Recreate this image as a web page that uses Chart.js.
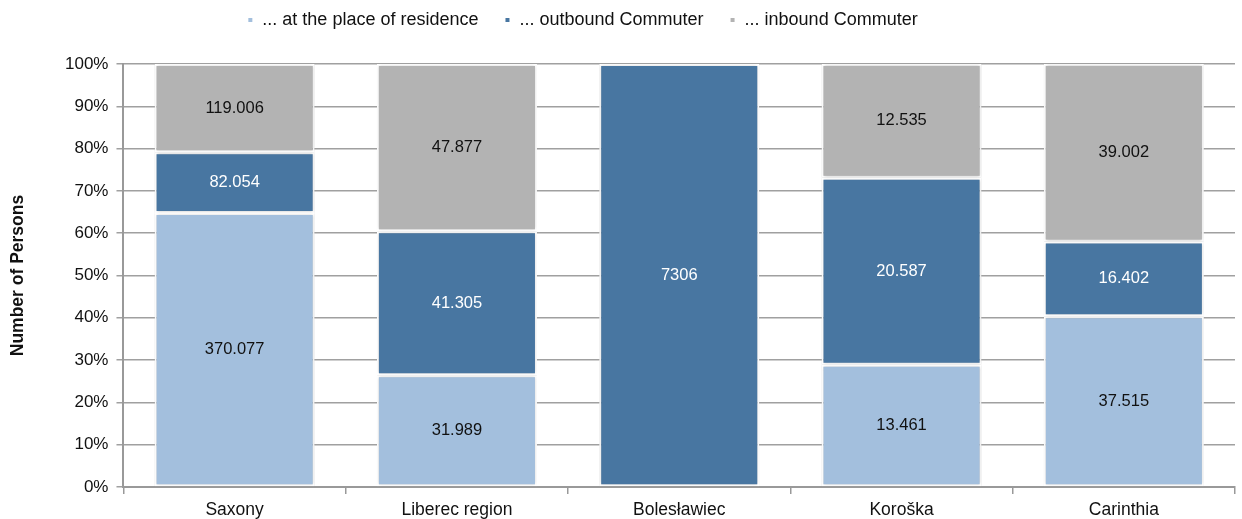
<!DOCTYPE html>
<html>
<head>
<meta charset="utf-8">
<script src="https://cdn.jsdelivr.net/npm/chart.js@4/dist/chart.umd.min.js"></script>
<style>
  html, body { margin: 0; padding: 0; background: #fff; }
  #wrap { width: 1242px; height: 519px; position: relative; }
</style>
</head>
<body>
<div id="wrap"><canvas id="chart"></canvas></div>
<script>
// Regions and absolute person counts (shown as labels, drawn as share of 100%)
const regions = ['Saxony', 'Liberec region', 'Bolesławiec', 'Koroška', 'Carinthia'];
const atResidence = [370077, 31989, 0, 13461, 37515];
const outbound = [82054, 41305, 7306, 20587, 16402];
const inbound = [119006, 47877, 0, 12535, 39002];
const labelTexts = {
  residence: ['370.077', '31.989', '', '13.461', '37.515'],
  outbound: ['82.054', '41.305', '7306', '20.587', '16.402'],
  inbound: ['119.006', '47.877', '', '12.535', '39.002']
};

const COLORS = { residence: '#a3bfdd', outbound: '#4876a1', inbound: '#b3b3b3' };
const FONT = '"Liberation Sans", Arial, sans-serif';

const totals = regions.map((_, i) => atResidence[i] + outbound[i] + inbound[i]);
const share = arr => arr.map((v, i) => v / totals[i] * 100);

// Raw numbers in the middle of each segment
const segmentLabels = {
  id: 'segmentLabels',
  afterDatasetsDraw(chart) {
    const ctx = chart.ctx;
    ctx.save();
    ctx.font = '16.5px ' + FONT;
    ctx.textAlign = 'center';
    ctx.textBaseline = 'middle';
    chart.data.datasets.forEach((ds, di) => {
      const meta = chart.getDatasetMeta(di);
      meta.data.forEach((bar, i) => {
        const txt = ds.texts[i];
        if (!txt) return;
        ctx.fillStyle = ds.textColor;
        ctx.fillText(txt, bar.x, (bar.y + bar.base) / 2);
      });
    });
    ctx.restore();
  }
};

// Soft halo around the bars
const barShadow = {
  id: 'barShadow',
  beforeDatasetsDraw(chart) {
    chart.ctx.save();
    chart.ctx.shadowColor = 'rgba(0,0,0,0.25)';
    chart.ctx.shadowBlur = 3;
  },
  afterDatasetsDraw(chart) {
    chart.ctx.restore();
  }
};

// Extra room between legend and plot, legend sits a bit left of centre
const legendGap = {
  id: 'legendGap',
  beforeInit(chart) {
    const fit = chart.legend.fit;
    chart.legend.fit = function () {
      fit.bind(chart.legend)();
      this.height += 25;
    };
  },
  afterLayout(chart) {
    chart.legend.left -= 35;
    chart.legend.right -= 35;
  }
};

new Chart(document.getElementById('chart'), {
  type: 'bar',
  data: {
    labels: regions,
    datasets: [
      { label: '... at the place of residence', data: share(atResidence), backgroundColor: COLORS.residence,
        texts: labelTexts.residence, textColor: '#111' },
      { label: '... outbound Commuter', data: share(outbound), backgroundColor: COLORS.outbound,
        texts: labelTexts.outbound, textColor: '#fff' },
      { label: '... inbound Commuter', data: share(inbound), backgroundColor: COLORS.inbound,
        texts: labelTexts.inbound, textColor: '#111' }
    ].map(d => Object.assign(d, {
      borderColor: '#fff', borderWidth: 2, borderSkipped: false,
      categoryPercentage: 0.72, barPercentage: 1
    }))
  },
  options: {
    responsive: true,
    maintainAspectRatio: false,
    animation: false,
    layout: { padding: { left: 0, right: 7, top: -15, bottom: -8 } },
    plugins: {
      legend: {
        position: 'top',
        labels: {
          color: '#111',
          boxWidth: 6, boxHeight: 6,
          padding: 26,
          font: { family: FONT, size: 18 }
        }
      },
      tooltip: { enabled: false }
    },
    scales: {
      x: {
        stacked: true,
        grid: { offset: true, drawOnChartArea: false, color: '#999', tickLength: 7, lineWidth: 1.5 },
        border: { color: '#999', width: 2 },
        ticks: { color: '#111', padding: 6, font: { family: FONT, size: 17.5 } }
      },
      y: {
        stacked: true,
        min: 0, max: 100,
        ticks: {
          stepSize: 10, color: '#111', padding: 8,
          font: { family: FONT, size: 17 },
          callback: v => v + '%'
        },
        grid: { color: '#a0a0a0', lineWidth: 1.5, tickLength: 7 },
        border: { color: '#999', width: 2 },
        title: {
          display: true, text: 'Number of Persons', color: '#111', padding: { top: 8, bottom: 28 },
          font: { family: FONT, size: 17.5, weight: 'bold' }
        }
      }
    }
  },
  plugins: [legendGap, barShadow, segmentLabels]
});
</script>
</body>
</html>
